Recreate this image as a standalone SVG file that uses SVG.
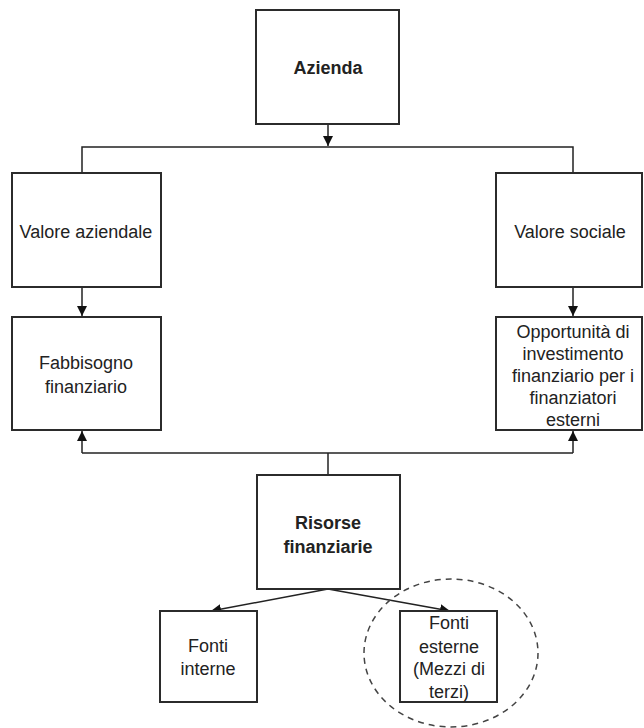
<svg xmlns="http://www.w3.org/2000/svg" width="644" height="728" viewBox="0 0 644 728">
  <style>
    .box { fill: #ffffff; stroke: #2b2b2b; stroke-width: 2; }
    .lbl { font-family: "Liberation Sans", Arial, sans-serif; font-size: 18px; fill: #222222; text-anchor: middle; }
    .bold { font-weight: bold; }
    .wire { fill: none; stroke: #222222; stroke-width: 1.5; }
    .halo { fill: none; stroke: #444444; stroke-width: 1.5; stroke-dasharray: 6 5; }
  </style>
  <defs>
    <marker id="arrow" viewBox="0 0 10 10" refX="10" refY="5" markerWidth="10" markerHeight="10" markerUnits="userSpaceOnUse" orient="auto">
      <path d="M0,0 L10,5 L0,10 z" fill="#111111"/>
    </marker>
  </defs>
  <rect width="644" height="728" fill="#ffffff"/>

  <g id="connectors">
    <!-- Azienda down to the split bar -->
    <line class="wire" x1="328" y1="124" x2="328" y2="146" marker-end="url(#arrow)"/>
    <polyline class="wire" points="82,173 82,147 573,147 573,173"/>
    <!-- value boxes down to lower boxes -->
    <line class="wire" x1="82" y1="287" x2="82" y2="316" marker-end="url(#arrow)"/>
    <line class="wire" x1="573" y1="287" x2="573" y2="316" marker-end="url(#arrow)"/>
    <!-- Risorse up to both lower boxes -->
    <line class="wire" x1="328" y1="475" x2="328" y2="453"/>
    <line class="wire" x1="82" y1="453" x2="573" y2="453"/>
    <line class="wire" x1="82" y1="453" x2="82" y2="431" marker-end="url(#arrow)"/>
    <line class="wire" x1="573" y1="453" x2="573" y2="431" marker-end="url(#arrow)"/>
    <!-- Risorse down to sources -->
    <line class="wire" x1="328" y1="589" x2="211" y2="611" marker-end="url(#arrow)"/>
    <line class="wire" x1="328" y1="589" x2="450" y2="611" marker-end="url(#arrow)"/>
  </g>

  <g id="azienda">
    <rect class="box" x="256" y="10" width="143" height="114"/>
    <text class="lbl bold" x="328" y="74">Azienda</text>
  </g>

  <g id="valore-aziendale">
    <rect class="box" x="12" y="173" width="149" height="114"/>
    <text class="lbl" x="86" y="238">Valore aziendale</text>
  </g>

  <g id="valore-sociale">
    <rect class="box" x="496" y="173" width="146" height="114"/>
    <text class="lbl" x="570" y="238">Valore sociale</text>
  </g>

  <g id="fabbisogno">
    <rect class="box" x="12" y="317" width="149" height="113"/>
    <text class="lbl" x="86" y="369">Fabbisogno</text>
    <text class="lbl" x="86" y="393">finanziario</text>
  </g>

  <g id="opportunita">
    <rect class="box" x="496" y="317" width="146" height="113"/>
    <text class="lbl" x="573" y="338">Opportunità di</text>
    <text class="lbl" x="573" y="360">investimento</text>
    <text class="lbl" x="573" y="382">finanziario per i</text>
    <text class="lbl" x="573" y="404">finanziatori</text>
    <text class="lbl" x="573" y="426">esterni</text>
  </g>

  <g id="risorse">
    <rect class="box" x="257" y="475" width="143" height="114"/>
    <text class="lbl bold" x="328" y="529">Risorse</text>
    <text class="lbl bold" x="328" y="553">finanziarie</text>
  </g>

  <g id="fonti-interne">
    <rect class="box" x="160" y="611" width="97" height="91"/>
    <text class="lbl" x="208" y="652">Fonti</text>
    <text class="lbl" x="208" y="675">interne</text>
  </g>

  <g id="fonti-esterne">
    <rect class="box" x="400" y="611" width="97" height="91"/>
    <text class="lbl" x="449" y="629">Fonti</text>
    <text class="lbl" x="449" y="653">esterne</text>
    <text class="lbl" x="449" y="675">(Mezzi di</text>
    <text class="lbl" x="449" y="698">terzi)</text>
  </g>

  <g id="external-focus">
    <ellipse class="halo" cx="451" cy="653" rx="87" ry="74"/>
  </g>
</svg>
